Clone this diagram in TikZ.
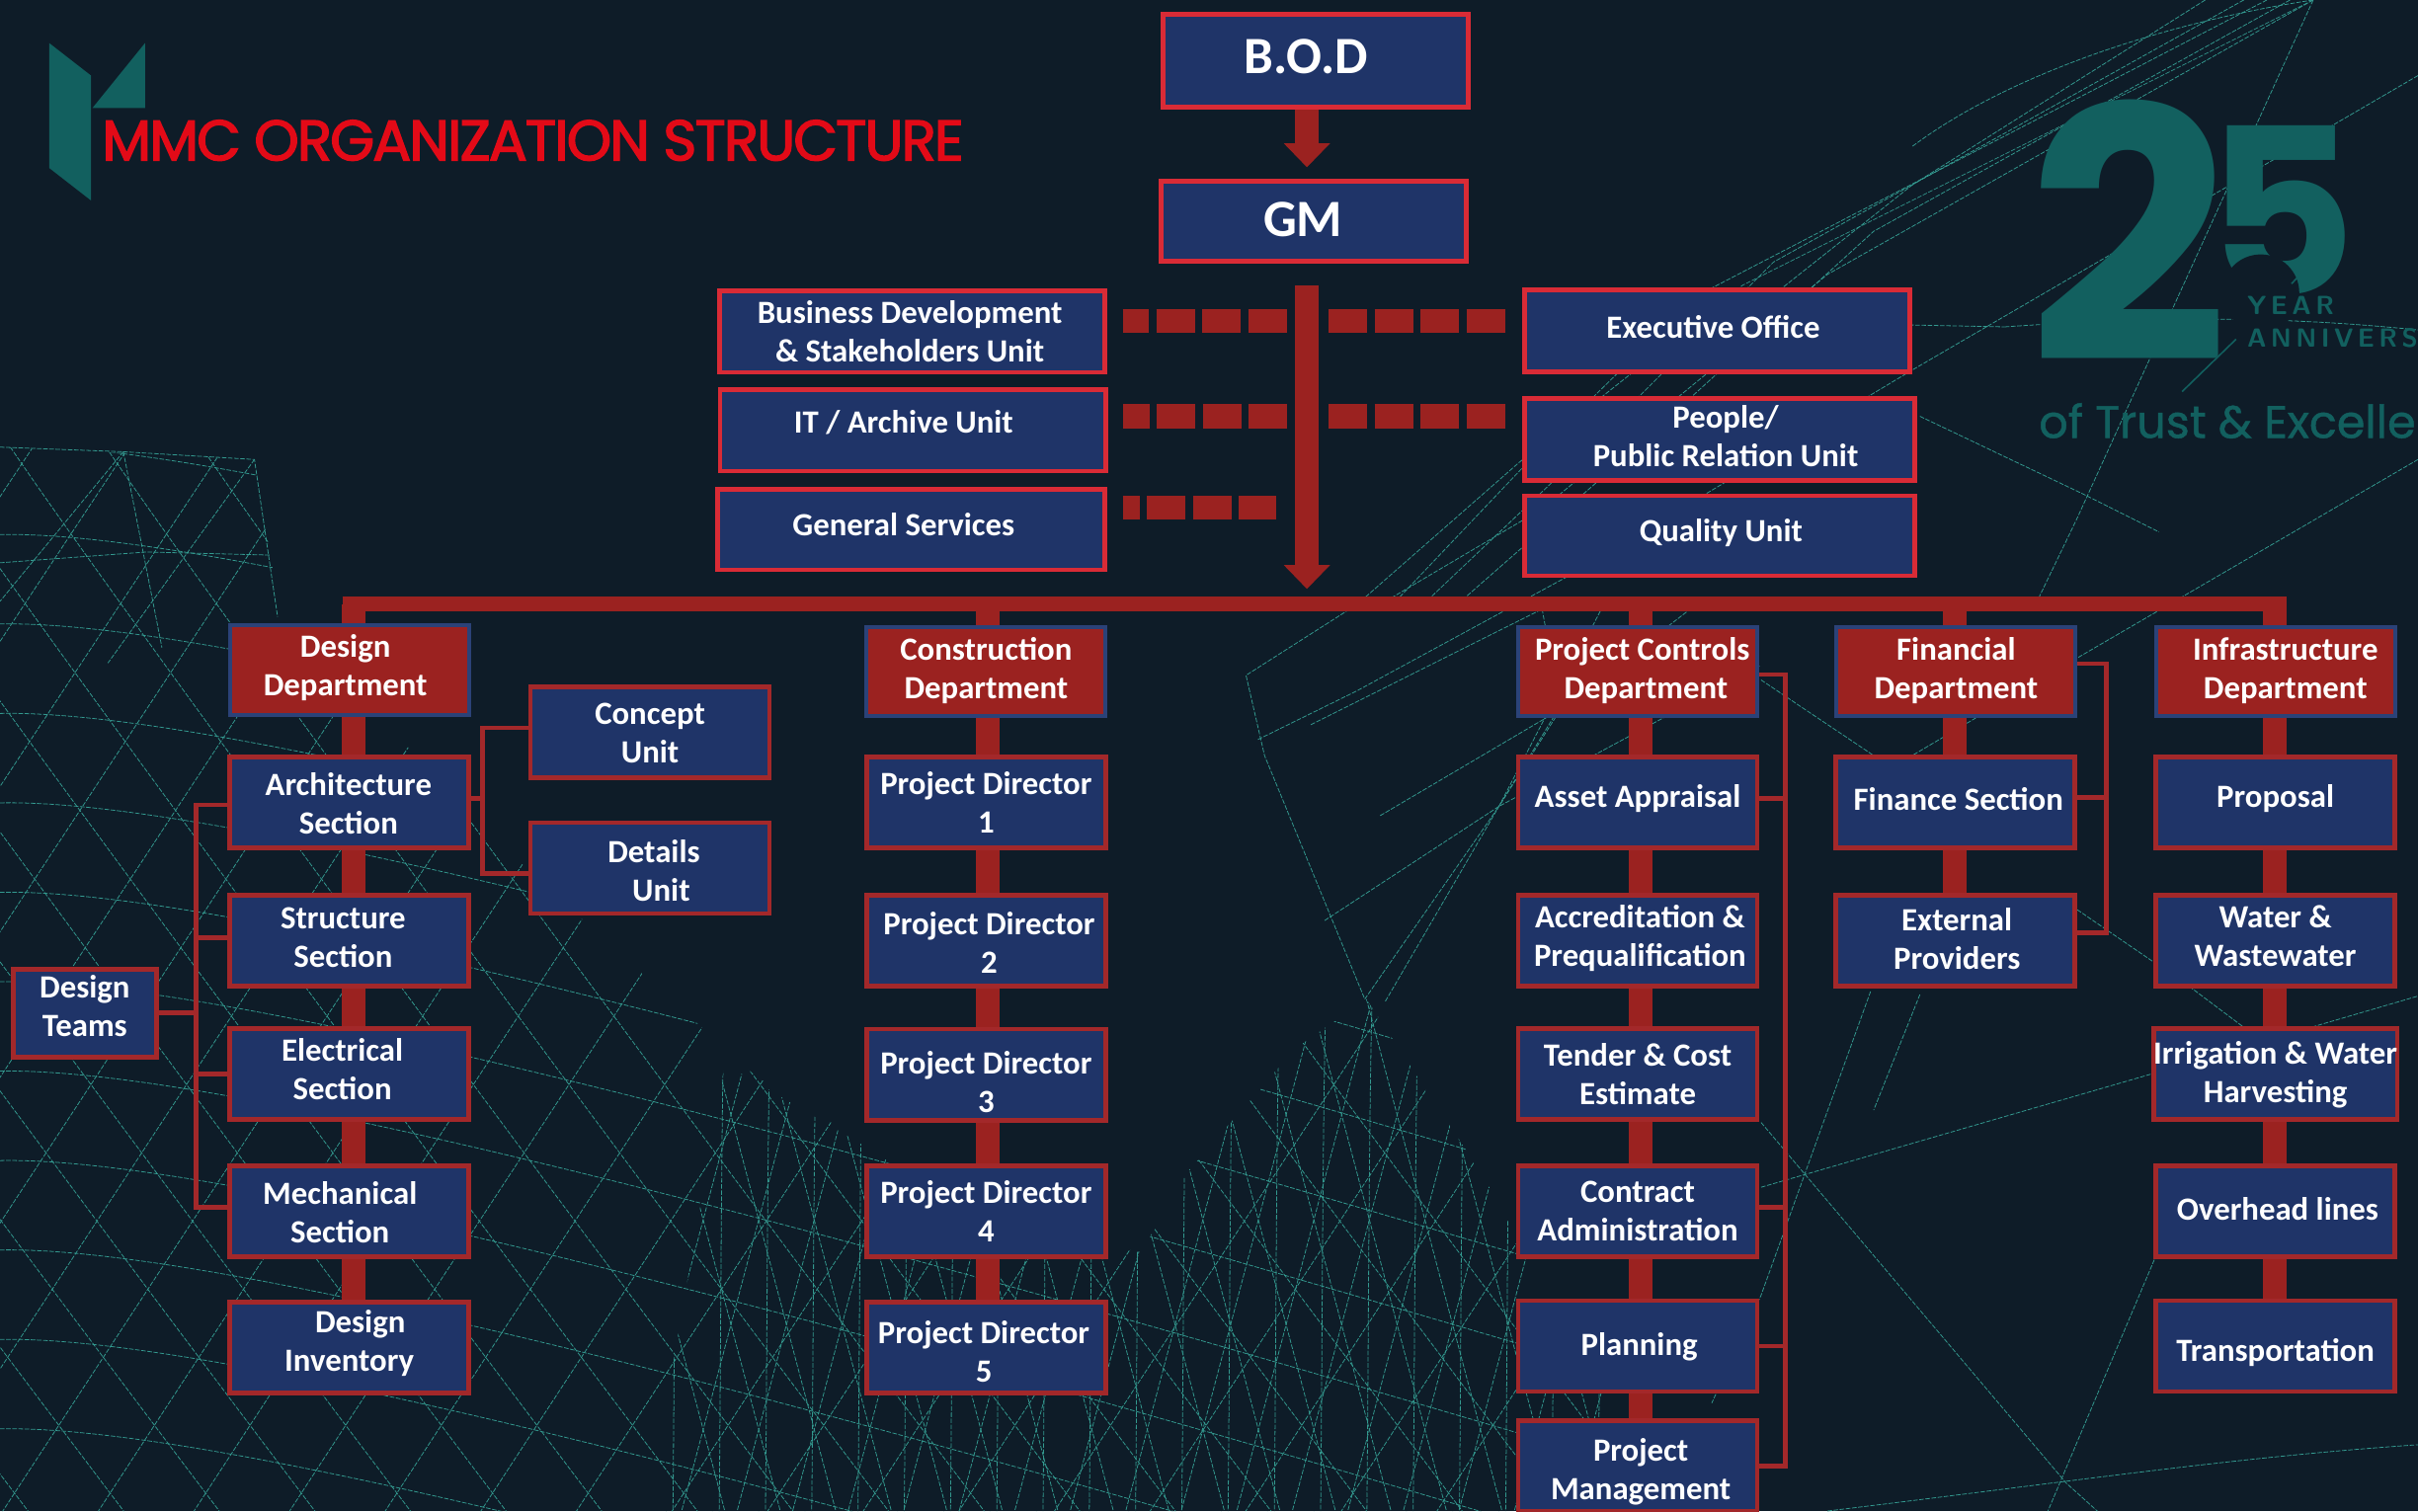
\documentclass[tikz,border=0pt]{standalone}
\usepackage{fontspec}
\setmainfont{Carlito}
\newfontfamily\titlefont[FakeBold=2.5,LetterSpace=-3.2]{Poppins}
\newfontfamily\trustfont[FakeBold=1]{Poppins}
\newfontfamily\badgefont{Poppins}
\usetikzlibrary{arrows.meta}
\definecolor{pagedark}{HTML}{0E1C28}
\definecolor{boxblue}{HTML}{1F3468}
\definecolor{topred}{HTML}{D92B36}
\definecolor{linkred}{HTML}{9B2220}
\definecolor{edgered}{HTML}{A3282A}
\definecolor{edgeblue}{HTML}{2B4278}
\definecolor{titlered}{HTML}{E30A17}
\definecolor{badgeteal}{HTML}{12605F}
\definecolor{meshteal}{HTML}{33998F}
\newcommand{\nudge}[3]{\hspace*{#1}\raisebox{\dimexpr#2-2pt\relax}[\height][\depth]{\begin{tabular}{@{}c@{}}#3\end{tabular}}}
\tikzset{
  unit text/.style={text=white, align=center, inner sep=0pt, font=\fontsize{21}{25}\selectfont\bfseries},
  top box/.style={unit text, draw=topred, fill=boxblue, line width=3pt},
  section box/.style={unit text, draw=edgered, fill=boxblue, line width=3pt, minimum width=155, minimum height=59},
  dept box/.style={unit text, draw=edgeblue, fill=linkred, line width=2.5pt, minimum width=155, minimum height=58},
  trunk/.style={linkred, line width=15.5pt},
  trunk arrow/.style={linkred, line width=15.5pt, -{Triangle[length=15.5pt,width=29pt]}},
  side link/.style={edgered, line width=3pt},
  dash link/.style={linkred, line width=15.5pt, dash pattern=on 25pt off 4.8pt},
  mesh line/.style={meshteal, line width=0.5pt, dash pattern=on 3pt off 1pt}
}
\begin{document}
\begin{tikzpicture}[x=1pt,y=-1pt]
   \clip (0,0) rectangle (1568,980);
   \fill [pagedark] (0,0) rectangle (1568,980);

   % mesh, lower left dome
   \begin{scope}
   \clip (0,290) -- (165,298) -- (182,400) -- (343,565) -- (490,698) -- (640,790) -- (740,812)
      -- (770,760) -- (840,680) -- (886,648) -- (960,760) -- (1040,900) -- (1100,980) -- (0,980) -- cycle;
   \foreach \i in {-8,...,16} {
      \draw [mesh line] (\i*62,280) .. controls +(120,180) and +(300,420) .. +(540,720);
      \draw [mesh line] (\i*62+400,280) .. controls +(-120,180) and +(-280,420) .. +(-470,720);
   }
   \foreach \i in {0,...,11} {
      \draw [mesh line] (-20,290+\i*58) .. controls +(250,-30) and +(500,190) .. +(1150,260);
   }
   \end{scope}

   % mesh, finer part at the foot
   \begin{scope}
   \clip (470,690) -- (640,790) -- (740,812) -- (770,760) -- (840,680) -- (886,648) -- (960,760) -- (1040,900) -- (1100,980) -- (420,980) -- cycle;
   \foreach \i in {0,...,22} {
      \draw [mesh line] (440+\i*30,640) .. controls +(-4,120) and +(6,220) .. +(-8,340);
      \draw [mesh line] (380+\i*36,640) -- +(90,340);
      \draw [mesh line] (460+\i*36,640) -- +(-90,340);
   }
   \end{scope}

   % mesh, upper right lines
   \draw [mesh line] (1500,0) -- (1130,185) -- (985,300) -- (880,392) -- (808,438) -- (820,490) -- (885,648);
   \draw [mesh line] (1500,0) -- (1185,178) -- (1000,330) -- (890,395);
   \draw [mesh line] (1470,0) -- (1100,192) -- (1000,290) -- (905,390);
   \draw [mesh line] (1455,0) -- (1150,170) -- (1020,300) -- (925,390);
   \draw [mesh line] (1485,0) -- (1215,150) -- (1050,300) -- (945,392);
   \draw [mesh line] (1430,0) -- (1240,120) -- (1120,215);
   \draw [mesh line] (1500,0) .. controls (1400,15) and (1300,50) .. (1240,95);
   \draw [mesh line] (1500,0) -- (1347,336) -- (1320,392);
   \draw [mesh line] (1568,49) -- (1240,240) -- (1020,372) -- (880,448) -- (815,480);
   \draw [mesh line] (1300,212) .. controls (1400,205) and (1480,205) .. (1568,214);
   \draw [mesh line] (1240,240) -- (1200,210) -- (1300,212);
   \draw [mesh line] (1568,298) -- (1350,425) -- (1240,490);
   \draw [mesh line] (1245,270) -- (1350,320) -- (1400,345);
   \draw [mesh line] (1347,590) -- (1420,640) -- (1500,700);
   \draw [mesh line] (1142,728) -- (1340,962) -- (1360,980);
   \draw [mesh line] (1142,770) -- (1397,696) -- (1568,646);
   \draw [mesh line] (1213,643) -- (1142,840) -- (1110,910);
   \draw [mesh line] (1397,817) -- (1328,980);
   \draw [mesh line] (1185,980) .. controls (1350,960) and (1450,945) .. (1568,937);
   \draw [mesh line] (1142,441) -- (1215,490);
   \draw [mesh line] (1245,645) -- (1215,720);
   \draw [mesh line] (885,648) -- (972,523) -- (1040,392);
   \draw [mesh line] (859,597) -- (972,523) -- (1141,432);
   \draw [mesh line] (895,529) -- (1012,460) -- (1100,392);
   \draw [mesh line] (850,470) -- (1000,395);
   \draw [mesh line] (1000,395) -- (1012,460) -- (972,523);
   \draw [mesh line] (1035,420) -- (972,523) -- (898,650);

   % mesh, upper left corner
   \draw [mesh line] (0,290) -- (80,293) -- (165,298) -- (180,400);
   \draw [mesh line] (80,293) -- (0,390);
   \draw [mesh line] (165,298) -- (70,430);
   \draw [mesh line] (80,293) -- (105,420);
   \draw [mesh line] (0,365) -- (95,358) -- (175,360);

   % logo and title
   \fill [badgeteal] (32,28) -- (59,49) -- (59,130) -- (32,109) -- cycle;
   \fill [badgeteal] (94,28) -- (94,70) -- (60,70) -- cycle;
   \node (title) [anchor=base west, inner sep=0pt, text=titlered, font=\titlefont\fontsize{37}{37}\selectfont] at (66,104) {MMC ORGANIZATION STRUCTURE};

   % anniversary badge
   \node (badgetwo) [anchor=base west, inner sep=0pt, text=badgeteal, font=\badgefont\bfseries\fontsize{228}{228}\selectfont] at (1315,235) {2};
   \node (badgefive) [anchor=base east, inner sep=0pt, text=badgeteal, font=\badgefont\bfseries\fontsize{150}{150}\selectfont] at (1528,191) {5};
   \fill [pagedark] (1466,190) circle [radius=25];
   \fill [pagedark] (1450,219) -- (1415,254) -- (1500,254) -- (1520,219) -- cycle;
   \draw [badgeteal, line width=1pt] (1516,152) -- (1486,184);
   \draw [badgeteal, line width=1pt] (1450,220) -- (1415,254);
   \node (badgeyear) [anchor=base west, inner sep=0pt, text=badgeteal, font=\sffamily\bfseries\fontsize{17}{17}\selectfont] at (1457,204) {Y\,E\,A\,R};
   \node (badgeanniv) [anchor=base west, inner sep=0pt, text=badgeteal, font=\sffamily\bfseries\fontsize{17}{17}\selectfont] at (1457,225) {A\,N\,N\,I\,V\,E\,R\,S};
   \node (badgetrust) [anchor=base west, inner sep=0pt, text=badgeteal, font=\trustfont\fontsize{29.5}{30}\selectfont] at (1322,284) {of Trust \& Excelle};

   % top of the chart
   \node (bod) [top box, minimum width=198, minimum height=60, font=\fontsize{34}{36}\selectfont\bfseries] at (853,39.5) {\nudge{-12pt}{1pt}{B.O.D}};
   \node (gm) [top box, minimum width=198, minimum height=52, font=\fontsize{34}{36}\selectfont\bfseries] at (852,143.5) {\nudge{-14pt}{-1pt}{GM}};

   \node (bizunit) [top box, minimum width=250, minimum height=53] at (591.5,215) {\nudge{-3pt}{0pt}{Business Development\\\& Stakeholders Unit}};
   \node (itunit) [top box, minimum width=250, minimum height=53] at (592,279) {\nudge{-12pt}{5pt}{IT / Archive Unit}};
   \node (genserv) [top box, minimum width=251, minimum height=52] at (591,343.5) {\nudge{-10pt}{3pt}{General Services}};
   \node (execoff) [top box, minimum width=250, minimum height=53] at (1113.5,214.5) {\nudge{-5pt}{2pt}{Executive Office}};
   \node (peopleunit) [top box, minimum width=253, minimum height=53] at (1115,285) {\nudge{8pt}{2pt}{People/\\Public Relation Unit}};
   \node (qualunit) [top box, minimum width=253, minimum height=52] at (1115,347.5) {\nudge{2pt}{3pt}{Quality Unit}};

   % links under the top boxes
   \coordinate (gmhead) at (847.5,108.5);
   \coordinate (trunkhead) at (847.5,382);
   \coordinate (dashone) at (847.5,208);
   \coordinate (dashtwo) at (847.5,270);
   \coordinate (dashthree) at (847.5,329);
   \draw [trunk arrow] (bod.south -| gmhead) -- (gmhead);
   \draw [trunk arrow, shorten <=14pt] (gm.south -| trunkhead) -- (trunkhead);
   \draw [dash link, dash phase=8pt, shorten <=10pt, shorten >=13pt] (bizunit.east |- dashone) -- (dashone);
   \draw [dash link, shorten >=11pt, shorten <=14pt] (dashone) -- (execoff.west |- dashone);
   \draw [dash link, dash phase=8pt, shorten <=10pt, shorten >=13pt] (itunit.east |- dashtwo) -- (dashtwo);
   \draw [dash link, shorten >=11pt, shorten <=14pt] (dashtwo) -- (peopleunit.west |- dashtwo);
   \draw [dash link, dash phase=14pt, shorten <=10pt, shorten >=20pt] (genserv.east |- dashthree) -- (dashthree);

   % long bar
   \coordinate (barleft) at (222,391.7);
   \coordinate (barright) at (1483,391.7);
   \draw [linkred, line width=9.5pt] (barleft) -- (barright);

   % design column
   \node (designdept) [dept box] at (226.5,434.5) {\nudge{-5pt}{3pt}{Design\\Department}};
   \node (archsec) [section box] at (226.5,520.5) {\nudge{-1pt}{-1pt}{Architecture\\Section}};
   \node (structsec) [section box] at (226.5,610) {\nudge{-8pt}{2pt}{Structure\\Section}};
   \node (elecsec) [section box] at (226.5,696.5) {\nudge{-9pt}{3pt}{Electrical\\Section}};
   \node (mechsec) [section box] at (226.5,785.5) {\nudge{-12pt}{-1pt}{Mechanical\\Section}};
   \node (invsec) [section box] at (226.5,874) {\nudge{0pt}{4pt}{\ \ \ Design\\Inventory}};
   \node (conceptunit) [section box] at (421.5,475) {\nudge{0pt}{0pt}{Concept\\Unit}};
   \node (detailsunit) [section box] at (421.5,563) {\nudge{5pt}{-2pt}{Details\\\ \ Unit}};
   \node (teams) [section box, minimum width=93, minimum height=57] at (55,657) {\nudge{0pt}{4pt}{Design\\Teams}};

   \coordinate (designdrop) at (229.5,391.7);
   \draw [trunk] (designdrop) -- (designdrop |- designdept.north);
   \draw [trunk] (designdrop |- designdept.south) -- (designdrop |- archsec.north);
   \draw [trunk] (designdrop |- archsec.south) -- (designdrop |- structsec.north);
   \draw [trunk] (designdrop |- structsec.south) -- (designdrop |- elecsec.north);
   \draw [trunk] (designdrop |- elecsec.south) -- (designdrop |- mechsec.north);
   \draw [trunk] (designdrop |- mechsec.south) -- (designdrop |- invsec.north);

   \coordinate (teamsbar) at (127,657);
   \draw [side link] (teams.east) -- (teamsbar);
   \draw [side link] ([yshift=-1.5pt]archsec.west) -| (teamsbar);
   \draw [side link] ([yshift=2pt]structsec.west) -- (teamsbar |- 0,608);
   \draw [side link] (elecsec.west) -- (teamsbar |- elecsec.west);
   \draw [side link] ([yshift=2.5pt]mechsec.west) -| (teamsbar);

   \coordinate (archbar) at (313,518);
   \draw [side link] ([yshift=2.5pt]archsec.east) -- (archbar);
   \draw [side link] ([yshift=3pt]conceptunit.west) -| (archbar);
   \draw [side link] ([yshift=-3.5pt]detailsunit.west) -| (archbar);

   % construction column
   \node (constdept) [dept box] at (639.5,435.5) {\nudge{0pt}{2pt}{Construction\\Department}};
   \node (directorone) [section box] at (639.5,520.5) {\nudge{0pt}{0pt}{Project Director\\1}};
   \node (directortwo) [section box] at (639.5,610) {\nudge{4pt}{-2pt}{Project Director\\2}};
   \node (directorthree) [section box] at (639.5,697) {\nudge{0pt}{-5pt}{Project Director\\3}};
   \node (directorfour) [section box] at (639.5,785.5) {Project Director\\4};
   \node (directorfive) [section box] at (639.5,874) {\nudge{-3pt}{-3pt}{Project Director\\5}};

   \coordinate (constdrop) at (640.5,391.7);
   \draw [trunk] (constdrop) -- (constdrop |- constdept.north);
   \draw [trunk] (constdrop |- constdept.south) -- (constdrop |- directorone.north);
   \draw [trunk] (constdrop |- directorone.south) -- (constdrop |- directortwo.north);
   \draw [trunk] (constdrop |- directortwo.south) -- (constdrop |- directorthree.north);
   \draw [trunk] (constdrop |- directorthree.south) -- (constdrop |- directorfour.north);
   \draw [trunk] (constdrop |- directorfour.south) -- (constdrop |- directorfive.north);

   % project controls column
   \node (ctrldept) [dept box] at (1062,435.5) {\nudge{6pt}{2pt}{Project Controls\\\ Department}};
   \node (assetsec) [section box] at (1062,520.5) {\nudge{0pt}{4pt}{Asset Appraisal}};
   \node (accredsec) [section box] at (1062,610) {\nudge{3pt}{3pt}{Accreditation \&\\Prequalification}};
   \node (tendersec) [section box] at (1062,696.5) {Tender \& Cost\\Estimate};
   \node (contractsec) [section box] at (1062,785.5) {Contract\\Administration};
   \node (plansec) [section box] at (1062,873) {\nudge{2pt}{1pt}{Planning}};
   \node (pmsec) [section box] at (1062,951) {\nudge{4pt}{-2pt}{Project\\Management}};

   \coordinate (ctrldrop) at (1063.7,391.7);
   \draw [trunk] (ctrldrop) -- (ctrldrop |- ctrldept.north);
   \draw [trunk] (ctrldrop |- ctrldept.south) -- (ctrldrop |- assetsec.north);
   \draw [trunk] (ctrldrop |- assetsec.south) -- (ctrldrop |- accredsec.north);
   \draw [trunk] (ctrldrop |- accredsec.south) -- (ctrldrop |- tendersec.north);
   \draw [trunk] (ctrldrop |- tendersec.south) -- (ctrldrop |- contractsec.north);
   \draw [trunk] (ctrldrop |- contractsec.south) -- (ctrldrop |- plansec.north);
   \draw [trunk] (ctrldrop |- plansec.south) -- (ctrldrop |- pmsec.north);

   \coordinate (ctrlbar) at (1157.6,600);
   \draw [side link] ([yshift=-2pt]ctrldept.east) -| (ctrlbar);
   \draw [side link] ([yshift=2.5pt]assetsec.east) -- (ctrlbar |- 0,518);
   \draw [side link] ([yshift=2.5pt]contractsec.east) -- (ctrlbar |- 0,783);
   \draw [side link] (plansec.east) -- (ctrlbar |- plansec.east);
   \draw [side link] (pmsec.east) -| (ctrlbar);

   % financial column
   \node (findept) [dept box] at (1268.5,435.5) {\nudge{0pt}{2pt}{Financial\\Department}};
   \node (financesec) [section box] at (1268,520.5) {\nudge{4pt}{2pt}{Finance Section}};
   \node (extsec) [section box] at (1268,610) {\nudge{2pt}{1pt}{External\\Providers}};

   \coordinate (findrop) at (1267.5,391.7);
   \draw [trunk] (findrop) -- (findrop |- findept.north);
   \draw [trunk] (findrop |- findept.south) -- (findrop |- financesec.north);
   \draw [trunk] (findrop |- financesec.south) -- (findrop |- extsec.north);

   \coordinate (finbar) at (1366,517);
   \draw [side link] ([yshift=5pt]findept.east) -| (finbar);
   \draw [side link] ([yshift=3.5pt]financesec.east) -- (finbar);
   \draw [side link] ([yshift=5pt]extsec.east) -| (finbar);

   % infrastructure column
   \node (infradept) [dept box] at (1475.5,435.5) {\nudge{13pt}{2pt}{Infrastructure\\Department}};
   \node (propsec) [section box] at (1475.5,520.5) {\nudge{0pt}{4pt}{Proposal}};
   \node (watersec) [section box] at (1475.5,610) {\nudge{0pt}{3pt}{Water \&\\Wastewater}};
   \node (irrigsec) [section box] at (1475.5,696.5) {\nudge{0pt}{1pt}{Irrigation \& Water\\Harvesting}};
   \node (overheadsec) [section box] at (1475.5,785.5) {\nudge{3pt}{1pt}{Overhead lines}};
   \node (transsec) [section box] at (1475.5,873) {\nudge{0pt}{-3pt}{Transportation}};

   \coordinate (infradrop) at (1475.2,391.7);
   \draw [trunk] (infradrop) -- (infradrop |- infradept.north);
   \draw [trunk] (infradrop |- infradept.south) -- (infradrop |- propsec.north);
   \draw [trunk] (infradrop |- propsec.south) -- (infradrop |- watersec.north);
   \draw [trunk] (infradrop |- watersec.south) -- (infradrop |- irrigsec.north);
   \draw [trunk] (infradrop |- irrigsec.south) -- (infradrop |- overheadsec.north);
   \draw [trunk] (infradrop |- overheadsec.south) -- (infradrop |- transsec.north);
\end{tikzpicture}
\end{document}
